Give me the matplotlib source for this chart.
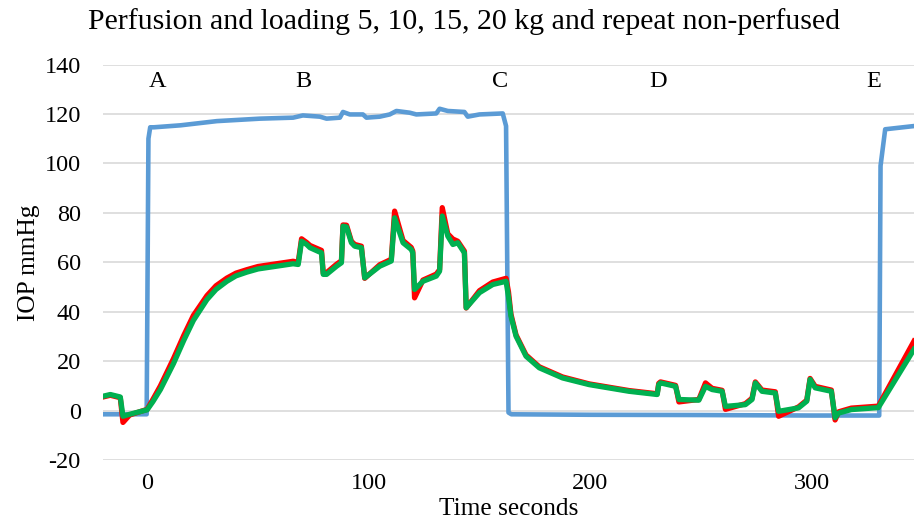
import numpy as np
import matplotlib
matplotlib.use('Agg')
import matplotlib.pyplot as plt
from matplotlib import rc

rc('font', family=['Liberation Serif', 'DejaVu Serif'])
rc('axes', unicode_minus=False)

# perfused (blue)
t_blue = [-20, -0.3, 0.5, 1.3, 3, 15, 31.4, 50.9, 65.8, 70.2, 77.9, 80.9, 86.9, 88.3,
          91.4, 97.3, 98.9, 104.9, 109.4, 112.4, 118.4, 121.4, 130.4, 131.9, 135.6,
          143.1, 144.6, 149.9, 160.4, 161.9, 163.0, 164.3, 200, 250, 300, 330.3,
          330.9, 333, 346]
p_blue = [-1.5, -1.5, 110, 114.6, 114.6, 115.4, 117.1, 118.1, 118.5, 119.4, 118.9,
          118.1, 118.5, 120.8, 119.8, 119.8, 118.5, 118.9, 119.8, 121.2, 120.5, 119.8,
          120.2, 122.1, 121.2, 120.8, 118.9, 119.8, 120.2, 115.1, -0.8, -1.5, -1.7,
          -1.8, -2.0, -2.0, 99, 113.8, 115.1]

# non-perfused, two channels (red, green)
t_np = [-20, -16.7, -12.2, -11.0, -8, -0.1, 2.5, 5.9, 11.8, 16.5, 20.8, 26.9, 31, 35.9,
        40, 44.9, 50, 56.8, 65.8, 68.1, 69.6, 71.9, 73.4, 78.6, 79.4, 80.9, 85.4, 87.6,
        88.3, 89.9, 92.1, 93.6, 96.6, 98.1, 104.9, 110.1, 111.6, 115.4, 119.1, 119.8,
        120.6, 124.4, 130.4, 131.9, 133.1, 135.6, 137.9, 140.1, 143.1, 143.9, 149.9,
        155.9, 161.9, 163.0, 164.1, 166.4, 170.9, 176.9, 187.4, 199.4, 217.4, 230.1,
        230.8, 231.6, 238.4, 239.9, 248.9, 251.9, 254.9, 259.4, 260.9, 269.9, 272.9,
        274.4, 277.4, 283.4, 284.9, 293.9, 297.6, 299.1, 301.4, 308.7, 310.4, 312,
        317.7, 329.9, 344.1, 346]
p_green = [5.8, 6.5, 5.5, -2.3, -1.5, 0.3, 3.6, 8.5, 19, 28.5, 36.5, 44.9, 49, 52.3,
           54.5, 56, 57.3, 58.2, 59.4, 59.1, 68.5, 67.2, 65.9, 63.8, 55.1, 55.1, 58.4,
           59.8, 74.6, 74.3, 67.9, 66.5, 65.9, 53.7, 58.4, 60.5, 78, 67.9, 65.2, 63.8,
           49, 52.3, 54.4, 56.4, 78.7, 70.6, 67.2, 67.9, 63.8, 41.6, 47.7, 51, 52.3,
           46, 38.2, 30.1, 22, 17.3, 13.2, 10.5, 7.8, 6.5, 10.5, 11.2, 9.8, 4.5,
           4.2, 9.8, 8.5, 7.8, 1.7, 2.4, 4.5, 11.2, 7.8, 7.1, -0.3, 1.1, 3.8, 12.6,
           9.2, 7.8, -2.9, -1.0, 0.4, 1.2, 22, 24.8]
p_red = [5.5, 6.2, 5.2, -4.8, -1.8, 0.5, 4.5, 10, 21, 30.5, 38.5, 46.5, 50.5, 53.6,
         55.6, 57, 58.3, 59.2, 60.4, 60, 69.5, 68, 66.8, 64.8, 55.5, 55.8, 59.2, 60.6,
         75.1, 75, 68.5, 67.2, 66.5, 53.5, 59, 61.2, 80.7, 68.8, 66, 64.5, 45.6,
         52.8, 55.2, 57, 82.1, 71.5, 69.4, 68.5, 64.5, 41.5, 48.5, 52, 53.5,
         48, 39, 30.6, 22.5, 17.7, 13.6, 10.8, 8.1, 6.8, 11, 11.6, 10.2,
         3.5, 4.5, 11.2, 9, 8.2, 0.5, 2.8, 5, 11.6, 8.3, 7.6, -2.3, 1.5, 4.2, 13,
         9.8, 8.3, -3.8, -0.5, 1.0, 1.8, 25, 28.1]

letters = ['A', 'B', 'C', 'D', 'E']
letter_t = [4.5, 70.2, 159, 230.4, 327.6]

#======================================
fig = plt.figure(figsize=(9.14, 5.24), dpi=100)
ax = fig.add_axes([0.1127, 0.1221, 0.8873, 0.7548])

ax.plot(t_blue, p_blue, color='#5B9BD5', linewidth=3.3, solid_joinstyle='round')
ax.plot(t_np, p_red, color='#FF0000', linewidth=3.8, solid_joinstyle='round')
ax.plot(t_np, p_green, color='#00B050', linewidth=3.8, solid_joinstyle='round')

for s, tx in zip(letters, letter_t):
    ax.text(tx, 133, s, ha='center', va='center', fontsize=17.5)

ax.set_xlim(-20, 346)
ax.set_ylim(-20, 140)
ax.set_yticks(np.arange(-20, 141, 20))
ax.set_xticks([0, 100, 200, 300])
ax.grid(axis='y', color='#D9D9D9', linewidth=1.2)
ax.set_axisbelow(True)
for sp in ax.spines.values():
    sp.set_visible(False)
ax.tick_params(axis='y', length=0, pad=16, labelsize=17.5)
ax.tick_params(axis='x', length=0, pad=9, labelsize=17.5)
ax.set_xlabel('Time seconds', fontsize=18.3, labelpad=3)
ax.set_ylabel('IOP mmHg', fontsize=18.3, labelpad=3)
fig.text(0.5075, 0.958, 'Perfusion and loading 5, 10, 15, 20 kg and repeat non-perfused',
         ha='center', va='center', fontsize=21.5)

plt.savefig('out.png', dpi=100)
